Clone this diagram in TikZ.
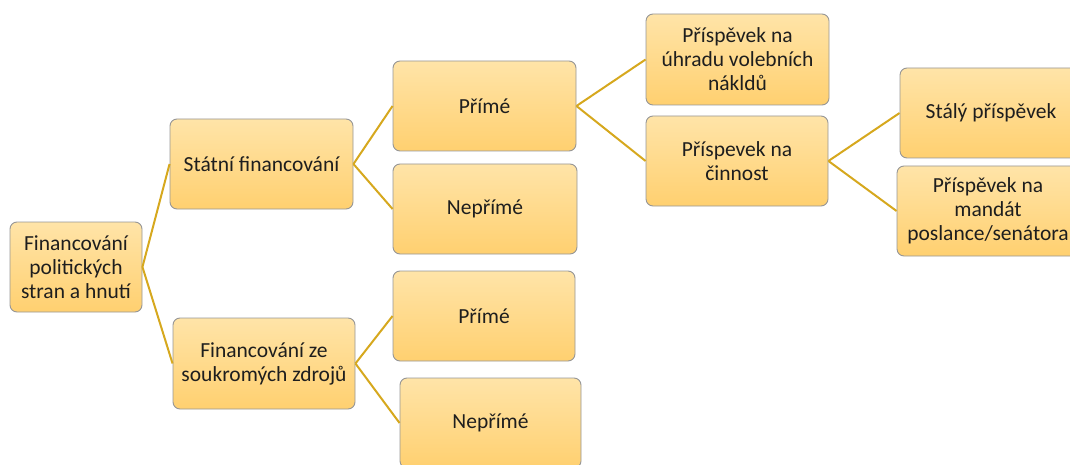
\documentclass[tikz,border=0pt]{standalone}
\usepackage{fontspec}
\setmainfont{Carlito}
\definecolor{boxtop}{RGB}{255,228,168}
\definecolor{boxbot}{RGB}{255,208,112}
\definecolor{boxedge}{RGB}{150,150,150}
\definecolor{linkcol}{RGB}{214,168,30}
\definecolor{txt}{RGB}{30,30,30}
\begin{document}
\begin{tikzpicture}[x=1pt,y=-1pt,
  box/.style={draw=boxedge, line width=0.9pt, rounded corners=7pt,
    top color=boxtop, bottom color=boxbot, align=center, text=txt,
    font=\fontsize{21.5}{24}\selectfont, inner sep=2pt},
  link/.style={draw=linkcol, line width=2pt}]
\useasboundingbox (0,0) rectangle (1070,465);
\begin{scope}
\clip (0,0) rectangle (1070,465);
\node[box, minimum width=132pt, minimum height=90pt] (root) at (76,267) {Financování\\politických\\stran a hnutí};
\node[box, minimum width=183pt, minimum height=90pt] (st) at (261.5,164) {Státní financování};
\node[box, minimum width=182pt, minimum height=91pt] (so) at (264,363.5) {Financování ze\\soukromých zdrojů};
\node[box, minimum width=183pt, minimum height=90pt] (p1) at (484.5,106) {Přímé};
\node[box, minimum width=184pt, minimum height=90pt] (n1) at (485,209) {Nepřímé};
\node[box, minimum width=182pt, minimum height=90pt] (p2) at (484,316) {Přímé};
\node[box, minimum width=181pt, minimum height=90pt] (n2) at (490.5,423) {Nepřímé};
\node[box, minimum width=183pt, minimum height=91pt] (b8) at (737.5,59.5) {Příspěvek na\\úhradu volebních\\nákldů};
\node[box, minimum width=182pt, minimum height=90pt] (b9) at (737,161) {Příspevek na\\činnost};
\node[box, minimum width=182pt, minimum height=90pt] (b10) at (991,113) {Stálý příspěvek};
\node[box, minimum width=182pt, minimum height=90pt] (b11) at (988,211) {Příspěvek na\\mandát\\poslance/senátora};
\end{scope}
\draw[link] (root.east) -- (st.west);
\draw[link] (root.east) -- (so.west);
\draw[link] (st.east) -- (p1.west);
\draw[link] (st.east) -- (n1.west);
\draw[link] (so.east) -- (p2.west);
\draw[link] (so.east) -- (n2.west);
\draw[link] (p1.east) -- (b8.west);
\draw[link] (p1.east) -- (b9.west);
\draw[link] (b9.east) -- (b10.west);
\draw[link] (b9.east) -- (b11.west);
\end{tikzpicture}
\end{document}
